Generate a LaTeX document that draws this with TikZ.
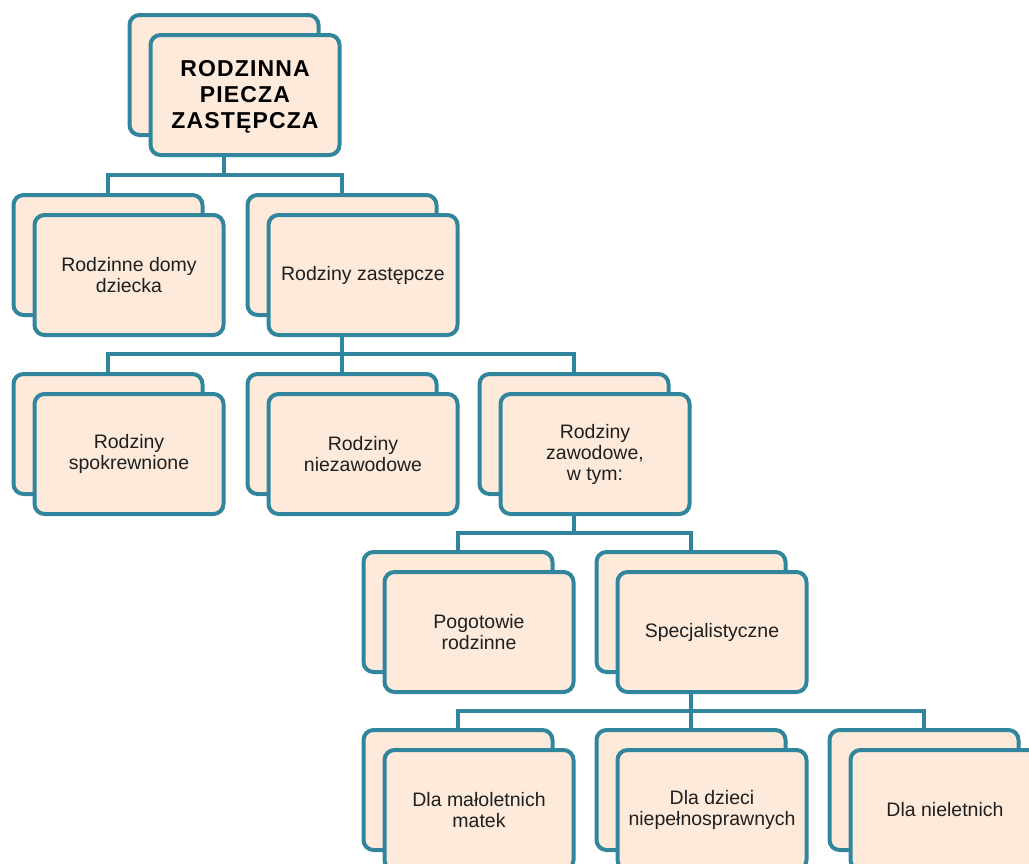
\documentclass[tikz,border=0pt]{standalone}
\usepackage{fontspec}
\usetikzlibrary{calc,backgrounds}
\setmainfont{Liberation Sans}
\newfontfamily\titlefont[LetterSpace=5]{Liberation Sans}
\definecolor{edge}{HTML}{31859C}
\definecolor{peach}{HTML}{FDEADA}
\tikzset{
  x=1pt, y=-1pt,
  card/.style={draw=edge, fill=peach, line width=4pt, rounded corners=10pt,
    minimum width=189pt, minimum height=120pt, inner sep=2pt, align=center,
    text=black!88, font=\fontsize{19.5}{21}\selectfont},
  conn/.style={draw=edge, line width=4pt},
}
\begin{document}
\begin{tikzpicture}
\useasboundingbox (0,0) rectangle (1029,863);
\clip (0,0) rectangle (1029,863);
\coordinate (o) at (21,20);
\path
  (224,75) coordinate (top)
  (108,255) coordinate (rdd)
  (342,255) coordinate (rz)
  (108,434) coordinate (rs)
  (342,434) coordinate (rn)
  (574,434) coordinate (rzaw)
  (458,612) coordinate (pr)
  (691,612) coordinate (spec)
  (458,790) coordinate (dmm)
  (691,790) coordinate (ddn)
  (924,790) coordinate (dn);
% back cards (tree nodes)
\foreach \n in {top,rdd,rz,rs,rn,rzaw,pr,spec,dmm,ddn,dn} {
  \node[card] (\n B) at (\n) {};
}
% front cards
\node[card, font=\titlefont\bfseries\fontsize{23}{26}\selectfont, text=black] (topF) at ($(top)+(o)$) {\rule{0pt}{20.5pt}RODZINNA\\PIECZA\\ZASTĘPCZA};
\node[card] (rddF) at ($(rdd)+(o)$) {Rodzinne domy\\dziecka};
\node[card] (rzF) at ($(rz)+(o)$) {Rodziny zastępcze};
\node[card] (rsF) at ($(rs)+(o)$) {Rodziny\\spokrewnione};
\node[card] (rnF) at ($(rn)+(o)$) {Rodziny\\niezawodowe};
\node[card] (rzawF) at ($(rzaw)+(o)$) {Rodziny\\zawodowe,\\w tym:};
\node[card] (prF) at ($(pr)+(o)$) {Pogotowie\\rodzinne};
\node[card] (specF) at ($(spec)+(o)$) {Specjalistyczne};
\node[card] (dmmF) at ($(dmm)+(o)$) {Dla małoletnich\\matek};
\node[card] (ddnF) at ($(ddn)+(o)$) {Dla dzieci\\niepełnosprawnych};
\node[card] (dnF) at ($(dn)+(o)$) {Dla nieletnich};
% connectors
\begin{scope}[on background layer]
\foreach \p/\c/\bus in {top/rdd/175, top/rz/175,
                        rz/rs/354, rz/rn/354, rz/rzaw/354,
                        rzaw/pr/533, rzaw/spec/533,
                        spec/dmm/711, spec/ddn/711, spec/dn/711} {
  \draw[conn] (\p F.south -| \p B.center) -- (\p B.center |- 0,\bus) -| (\c B.north);
}
\end{scope}
\end{tikzpicture}
\end{document}
